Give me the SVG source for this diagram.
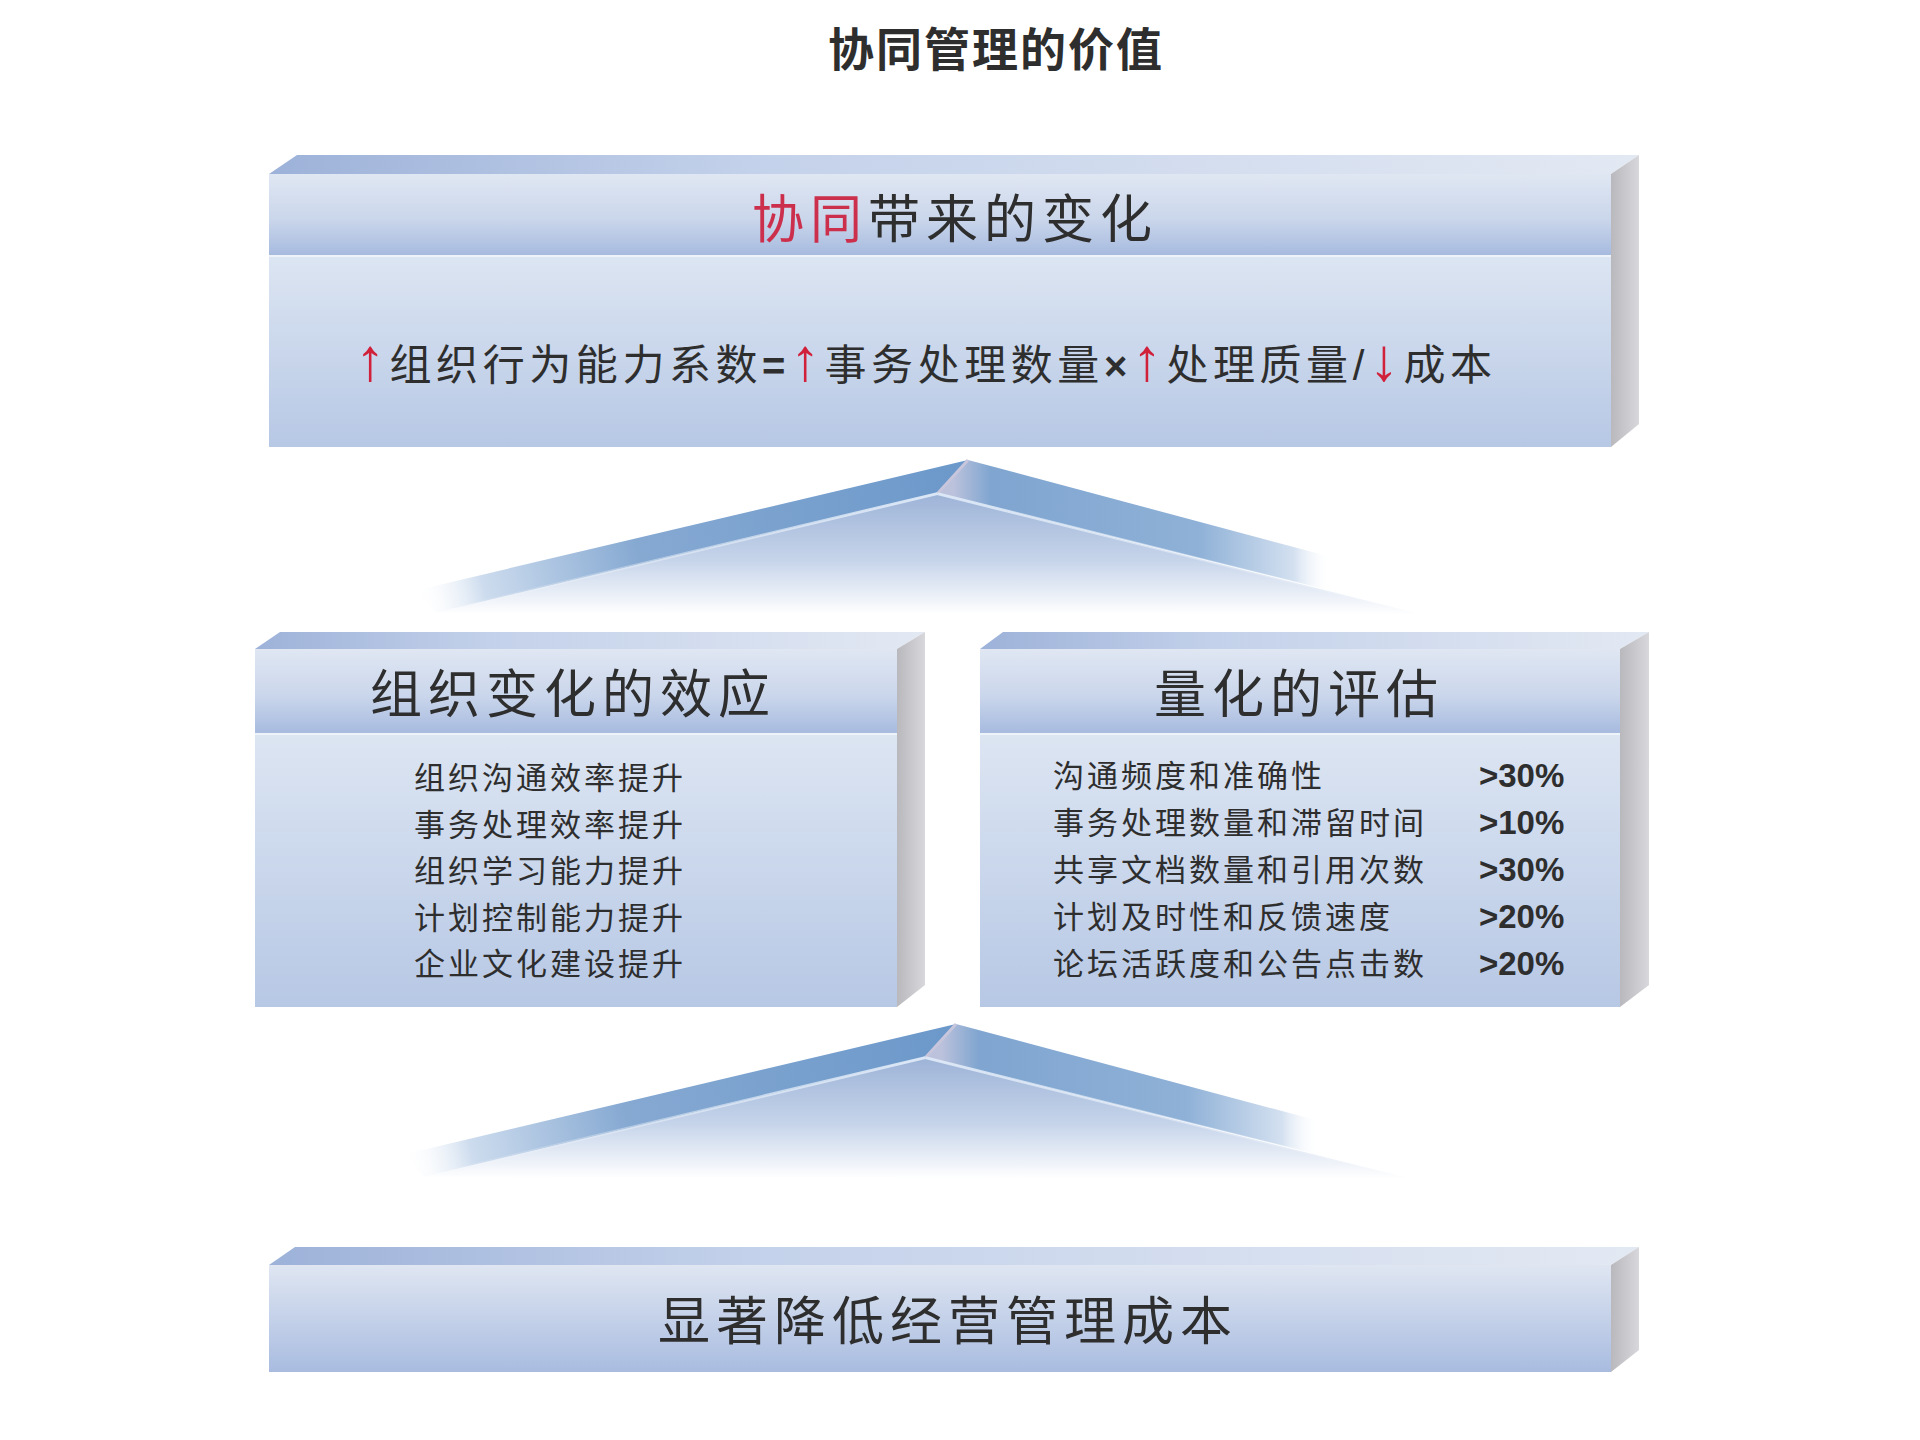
<svg xmlns="http://www.w3.org/2000/svg" width="1920" height="1440" viewBox="0 0 1920 1440">
<style>
  .t{font-family:"Noto Sans CJK SC","Liberation Sans",sans-serif;fill:#2e2e2e}
  .h{font-size:52px;letter-spacing:6px}
  .li{font-size:31px;letter-spacing:3px}
  .fm{font-size:42px}
  .arr{font-family:"Liberation Sans","DejaVu Sans",sans-serif;fill:#d0203a;font-size:60px}
  .sym{font-family:"Liberation Sans",Arial,sans-serif;font-weight:bold;font-size:40px}
  .sl{font-family:"Liberation Sans",Arial,sans-serif;font-size:42px}
  .pct{font-family:"Liberation Sans",Arial,sans-serif;font-size:33px;font-weight:bold;fill:#2e2e2e}
  .red{fill:#cc2f4b}
  .bevel{fill:url(#gBevel)}
  .side{fill:url(#gSide)}
  .band{fill:url(#gBand)}
  .body{fill:url(#gBody)}
  .sep{stroke:#eef3fa;stroke-width:2}
</style>
<defs>
  <linearGradient id="gBevel" x1="0" y1="0" x2="1" y2="0">
    <stop offset="0" stop-color="#9db2d9"/>
    <stop offset="0.35" stop-color="#c3d1ea"/>
    <stop offset="1" stop-color="#e3e9f3"/>
  </linearGradient>
  <linearGradient id="gSide" x1="0" y1="0" x2="1" y2="0">
    <stop offset="0" stop-color="#b8b8bd"/>
    <stop offset="1" stop-color="#d8d8dc"/>
  </linearGradient>
  <linearGradient id="gBand" x1="0" y1="0" x2="0" y2="1">
    <stop offset="0" stop-color="#e0e7f3"/>
    <stop offset="0.55" stop-color="#cad6eb"/>
    <stop offset="1" stop-color="#a6badf"/>
  </linearGradient>
  <linearGradient id="gBody" x1="0" y1="0" x2="0" y2="1">
    <stop offset="0" stop-color="#dce5f2"/>
    <stop offset="1" stop-color="#b7c8e5"/>
  </linearGradient>
  <linearGradient id="gBottom" x1="0" y1="0" x2="0" y2="1">
    <stop offset="0" stop-color="#dfe6f2"/>
    <stop offset="1" stop-color="#a9bce0"/>
  </linearGradient>
  <linearGradient id="gPF" gradientUnits="userSpaceOnUse" x1="0" y1="492" x2="0" y2="614">
    <stop offset="0" stop-color="#9db3d7"/>
    <stop offset="0.55" stop-color="#c6d4ea"/>
    <stop offset="1" stop-color="#ffffff"/>
  </linearGradient>
  <linearGradient id="gPL" gradientUnits="userSpaceOnUse" x1="975" y1="470" x2="418" y2="600">
    <stop offset="0" stop-color="#6b98ca"/>
    <stop offset="0.6" stop-color="#86a9d2"/>
    <stop offset="0.88" stop-color="#cddcee"/>
    <stop offset="1" stop-color="#ffffff" stop-opacity="0"/>
  </linearGradient>
  <linearGradient id="gPR" gradientUnits="userSpaceOnUse" x1="960" y1="0" x2="1342" y2="0">
    <stop offset="0" stop-color="#bcc2dc"/>
    <stop offset="0.1" stop-color="#7fa5d0"/>
    <stop offset="0.65" stop-color="#8fb1d7"/>
    <stop offset="0.9" stop-color="#d3e0f0"/>
    <stop offset="1" stop-color="#ffffff" stop-opacity="0"/>
  </linearGradient>
  <linearGradient id="gEL" gradientUnits="userSpaceOnUse" x1="944" y1="492" x2="438" y2="612">
    <stop offset="0" stop-color="#dbe7f6"/>
    <stop offset="1" stop-color="#ffffff" stop-opacity="0"/>
  </linearGradient>
  <linearGradient id="gER" gradientUnits="userSpaceOnUse" x1="944" y1="492" x2="1434" y2="614">
    <stop offset="0" stop-color="#dbe7f6"/>
    <stop offset="1" stop-color="#ffffff" stop-opacity="0"/>
  </linearGradient>
  <g id="pyr">
    <polygon points="944,492 438,612 1434,614" fill="url(#gPF)"/>
    <polygon points="975,458 416,590 438,612 944,492" fill="url(#gPL)"/>
    <polygon points="975,458 1342,556 1342,590 944,492" fill="url(#gPR)"/>
    <line x1="975" y1="458" x2="944" y2="492" stroke="#c8c6dc" stroke-width="3"/>
    <line x1="944" y1="492" x2="438" y2="612" stroke="url(#gEL)" stroke-width="3"/>
    <line x1="944" y1="492" x2="1434" y2="614" stroke="url(#gER)" stroke-width="3"/>
  </g>
</defs>

<rect x="0" y="0" width="1920" height="1440" fill="#ffffff"/>

<g id="title">
  <text class="t" x="828" y="66" font-size="46" font-weight="bold" letter-spacing="2" fill="#000">协同管理的价值</text>
</g>

<g id="connectors">
  <use href="#pyr" transform="translate(968,460) scale(0.99) translate(-975,-458)"/>
  <use href="#pyr" transform="translate(956,1024) scale(0.99) translate(-975,-458)"/>
</g>

<g id="box-top">
  <polygon class="bevel" points="269,174 297,155 1639,155 1611,174"/>
  <polygon class="side" points="1611,174 1639,155 1639,424 1611,447"/>
  <rect class="band" x="269" y="174" width="1342" height="82"/>
  <rect class="body" x="269" y="257" width="1342" height="190"/>
  <line class="sep" x1="269" y1="256" x2="1611" y2="256"/>
  <text class="t h" x="752" y="238"><tspan class="red">协同</tspan>带来的变化</text>
  <text class="t fm" x="355" y="380" textLength="1137" lengthAdjust="spacing"><tspan class="arr">↑</tspan>组织行为能力系数<tspan class="sym">=</tspan><tspan class="arr">↑</tspan>事务处理数量<tspan class="sym">×</tspan><tspan class="arr">↑</tspan>处理质量<tspan class="sl">/</tspan><tspan class="arr">↓</tspan>成本</text>
</g>

<g id="box-left">
  <polygon class="bevel" points="255,649 280,632 925,632 897,649"/>
  <polygon class="side" points="897,649 925,632 925,985 897,1007"/>
  <rect class="band" x="255" y="649" width="642" height="85"/>
  <rect class="body" x="255" y="735" width="642" height="272"/>
  <line class="sep" x1="255" y1="734" x2="897" y2="734"/>
  <text class="t h" x="370" y="713">组织变化的效应</text>
  <text class="t li" x="414" y="789">组织沟通效率提升</text>
  <text class="t li" x="414" y="836">事务处理效率提升</text>
  <text class="t li" x="414" y="882">组织学习能力提升</text>
  <text class="t li" x="414" y="929">计划控制能力提升</text>
  <text class="t li" x="414" y="975">企业文化建设提升</text>
</g>

<g id="box-right">
  <polygon class="bevel" points="980,649 1003,632 1649,632 1620,649"/>
  <polygon class="side" points="1620,649 1649,632 1649,985 1620,1007"/>
  <rect class="band" x="980" y="649" width="640" height="85"/>
  <rect class="body" x="980" y="735" width="640" height="272"/>
  <line class="sep" x1="980" y1="734" x2="1620" y2="734"/>
  <text class="t h" x="1154" y="713">量化的评估</text>
  <text class="t li" x="1053" y="787">沟通频度和准确性</text>
  <text class="t li" x="1053" y="834">事务处理数量和滞留时间</text>
  <text class="t li" x="1053" y="881">共享文档数量和引用次数</text>
  <text class="t li" x="1053" y="928">计划及时性和反馈速度</text>
  <text class="t li" x="1053" y="975">论坛活跃度和公告点击数</text>
  <text class="pct" x="1479" y="787">&gt;30%</text>
  <text class="pct" x="1479" y="834">&gt;10%</text>
  <text class="pct" x="1479" y="881">&gt;30%</text>
  <text class="pct" x="1479" y="928">&gt;20%</text>
  <text class="pct" x="1479" y="975">&gt;20%</text>
</g>

<g id="box-bottom">
  <polygon class="bevel" points="269,1265 295,1247 1639,1247 1611,1265"/>
  <polygon class="side" points="1611,1265 1639,1247 1639,1350 1611,1372"/>
  <rect x="269" y="1265" width="1342" height="107" fill="url(#gBottom)"/>
  <text class="t h" x="658" y="1340">显著降低经营管理成本</text>
</g>
</svg>
